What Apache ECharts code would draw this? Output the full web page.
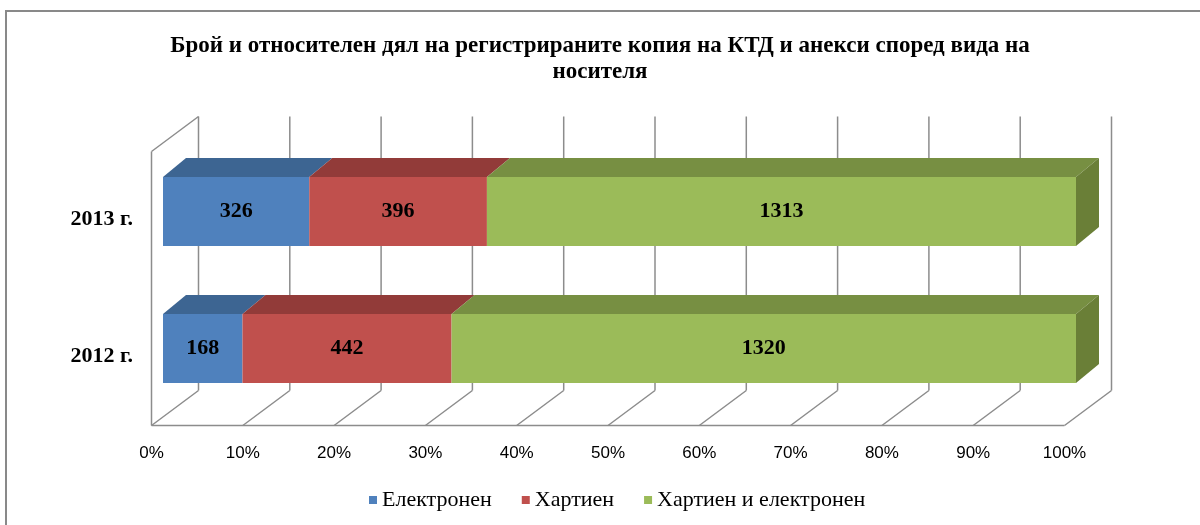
<!DOCTYPE html>
<html>
<head>
<meta charset="utf-8">
<script src="https://cdn.jsdelivr.net/npm/echarts@6/dist/echarts.min.js"></script>
<style>
  html, body { margin: 0; padding: 0; background: #fff; }
  #chart { width: 1200px; height: 525px; }
</style>
</head>
<body>
<div id="chart"></div>
<script>
const categories = ['2012 г.', '2013 г.']
const seriesNames = ['Електронен', 'Хартиен', 'Хартиен и електронен']
const electronic = [168, 326]
const paper = [442, 396]
const paperAndElectronic = [1320, 1313]
const tickValues = [0, 10, 20, 30, 40, 50, 60, 70, 80, 90, 100]

const frontColors = ['#4F81BD', '#C0504D', '#9BBB59']
const topColors = ['#3D6592', '#923B39', '#778F42']
const sideColor = '#6A7F37'
const wallColor = '#8c8c8c'

// 3d look: offsets of the floor front edge, back wall and bar depth
const front = [-11.5, 8.5]
const back = [35.5, -26.5]
const depth = [23, -19]

const counts = [electronic, paper, paperAndElectronic]
const totals = categories.map((c, i) => counts.reduce((s, arr) => s + arr[i], 0))

function segments(k) {
  return categories.map((c, i) => {
    let start = 0
    for (let j = 0; j < k; j++) start += counts[j][i] / totals[i] * 100
    const end = start + counts[k][i] / totals[i] * 100
    return [start, end, i, counts[k][i]]
  })
}

function renderFrame(params, api) {
  const v = api.value(0)
  const cs = params.coordSys
  const x = api.coord([v, 0])[0]
  const top = cs.y
  const bottom = cs.y + cs.height
  const line = { stroke: wallColor, lineWidth: 1.5 }
  const children = [
    { type: 'line', shape: { x1: x + back[0], y1: top + back[1], x2: x + back[0], y2: bottom + back[1] }, style: line },
    { type: 'line', shape: { x1: x + front[0], y1: bottom + front[1], x2: x + back[0], y2: bottom + back[1] }, style: line }
  ]
  if (v === 0) {
    const xEnd = api.coord([100, 0])[0]
    children.push(
      { type: 'line', shape: { x1: x + front[0], y1: top + front[1], x2: x + front[0], y2: bottom + front[1] }, style: line },
      { type: 'line', shape: { x1: x + front[0], y1: top + front[1], x2: x + back[0], y2: top + back[1] }, style: line },
      { type: 'line', shape: { x1: x + front[0], y1: bottom + front[1], x2: xEnd + front[0], y2: bottom + front[1] }, style: line }
    )
  }
  return { type: 'group', children }
}

function makeBarRenderer(k) {
  return function (params, api) {
    const p1 = api.coord([api.value(0), api.value(2)])
    const p2 = api.coord([api.value(1), api.value(2)])
    const h = api.size([0, 1])[1] * 0.505
    const y0 = p1[1] - h / 2
    const children = [
      {
        type: 'polygon',
        shape: { points: [[p1[0], y0], [p2[0], y0], [p2[0] + depth[0], y0 + depth[1]], [p1[0] + depth[0], y0 + depth[1]]] },
        style: { fill: topColors[k] }
      },
      {
        type: 'rect',
        shape: { x: p1[0], y: y0, width: p2[0] - p1[0], height: h },
        style: { fill: frontColors[k] }
      }
    ]
    if (k === counts.length - 1) {
      children.push({
        type: 'polygon',
        shape: { points: [[p2[0], y0], [p2[0] + depth[0], y0 + depth[1]], [p2[0] + depth[0], y0 + h + depth[1]], [p2[0], y0 + h]] },
        style: { fill: sideColor }
      })
    }
    children.push({
      type: 'text',
      style: {
        text: String(api.value(3)),
        x: (p1[0] + p2[0]) / 2,
        y: p1[1],
        align: 'center',
        verticalAlign: 'middle',
        fontFamily: 'Liberation Serif',
        fontWeight: 'bold',
        fontSize: 22,
        fill: '#000'
      }
    })
    return { type: 'group', children }
  }
}

const chart = echarts.init(document.getElementById('chart'))

const series = [{
  type: 'custom',
  name: 'frame',
  silent: true,
  z: 1,
  data: tickValues.map(v => [v, 0]),
  encode: { x: 0, y: 1 },
  renderItem: renderFrame
}]
seriesNames.forEach((name, k) => {
  series.push({
    type: 'custom',
    name,
    z: 2,
    itemStyle: { color: frontColors[k] },
    data: segments(k),
    encode: { x: [0, 1], y: 2 },
    renderItem: makeBarRenderer(k)
  })
})

chart.setOption({
  animation: false,
  graphic: [{
    type: 'rect',
    shape: { x: 6, y: 11, width: 1300, height: 600 },
    style: { fill: 'none', stroke: '#898989', lineWidth: 2 },
    silent: true
  }],
  title: {
    text: 'Брой и относителен дял на регистрираните копия на КТД и анекси според вида на\nносителя',
    left: 'center',
    top: 28,
    textStyle: {
      fontFamily: 'Liberation Serif',
      fontWeight: 'bold',
      fontSize: 23,
      lineHeight: 26,
      color: '#000'
    }
  },
  legend: {
    data: seriesNames,
    top: 484,
    left: 364,
    icon: 'rect',
    itemWidth: 8,
    itemHeight: 8,
    itemGap: 30,
    textStyle: { fontFamily: 'Liberation Serif', fontSize: 22, color: '#000' }
  },
  grid: { left: 163, right: 124, top: 143, bottom: 108 },
  xAxis: {
    type: 'value',
    min: 0,
    max: 100,
    interval: 10,
    axisLine: { show: false },
    axisTick: { show: false },
    splitLine: { show: false },
    axisLabel: {
      formatter: '{value}%',
      margin: 28,
      padding: [0, 23, 0, 0],
      fontFamily: 'Liberation Sans',
      fontSize: 17,
      color: '#000'
    }
  },
  yAxis: {
    type: 'category',
    data: categories,
    axisLine: { show: false },
    axisTick: { show: false },
    axisLabel: {
      margin: 30,
      verticalAlign: 'top',
      lineHeight: 16,
      fontFamily: 'Liberation Serif',
      fontWeight: 'bold',
      fontSize: 22,
      color: '#000'
    }
  },
  series
})
</script>
</body>
</html>
